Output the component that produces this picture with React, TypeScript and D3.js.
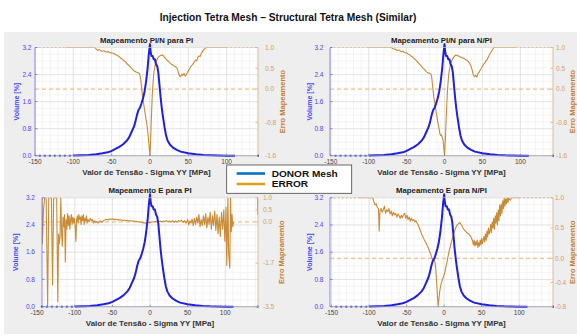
import React from "react";
import * as d3 from "d3";

type Pt = [number, number];

const mainTitle = "Injection Tetra Mesh – Structural Tetra Mesh (Similar)";
const xLabel = "Valor de Tensão - Sigma YY [MPa]";
const volLabel = "Volume [%]";
const errLabel = "Erro Mapeamento";
const legendLabels = ["DONOR Mesh", "ERROR"];

const xTicks = [-150, -100, -50, 0, 50, 100];
const volumeTicks = [0, 0.8, 1.6, 2.4, 3.2];
const panelTitles = [
  "Mapeamento PI/N para PI",
  "Mapeamento PI/N para N/PI",
  "Mapeamento E para PI",
  "Mapeamento E para N/PI",
];
const errTicksTL = [1.0, 0.5, 0.0, -0.8, -1.6];
const errTicksTR = [1.0, 0.5, 0.0, -0.8, -1.6];
const errTicksBL = [1.0, 0.5, 0.0, -1.7, -3.5];
const errTicksBR = [1.0, 0.5, 0.0, -0.4, -0.8];

const donorCurve: Pt[] = [
  [-100, 0.004], [-90, 0.01], [-80, 0.02], [-70, 0.04], [-62, 0.07], [-55, 0.1], [-50, 0.14],
  [-45, 0.2], [-40, 0.26], [-35, 0.34], [-30, 0.45], [-27, 0.55], [-24, 0.7], [-21, 0.85],
  [-19, 1.0], [-17, 1.2], [-15, 1.35], [-13, 1.42], [-11, 1.55], [-9, 1.7], [-7, 1.9],
  [-5, 2.2], [-3, 2.6], [-1.5, 3.0], [0, 3.3], [1, 3.05], [2, 2.95], [3.5, 2.95], [5, 2.85],
  [6.5, 2.85], [8, 2.7], [9.5, 2.65], [11, 2.45], [12, 2.2], [13, 1.95], [14, 1.7],
  [15.5, 1.4], [17, 1.15], [19, 0.85], [21, 0.6], [23, 0.45], [26, 0.33], [30, 0.24],
  [35, 0.17], [40, 0.12], [50, 0.07], [60, 0.04], [70, 0.02], [80, 0.01], [90, 0.005],
  [100, 0.002], [111, 0.0],
];
const donorDotted: Pt[] = [[-145, 0], [-100, 0]];

const errTL: Pt[] = [
  [-110, 1], [-72, 1], [-70, 0.96], [-68, 0.93], [-66, 0.95], [-63, 0.91], [-60, 0.92], [-57, 0.89],
  [-54, 0.9], [-51, 0.87], [-48, 0.86], [-45, 0.83], [-42, 0.8], [-40, 0.78], [-38, 0.74],
  [-36, 0.72], [-34, 0.68], [-32, 0.66], [-30, 0.61], [-28, 0.58], [-26, 0.54], [-24, 0.5],
  [-22, 0.46], [-20, 0.43], [-18, 0.41], [-16, 0.4], [-14, 0.38], [-13, 0.33], [-12, 0.22],
  [-11, 0.05], [-10, -0.12], [-9, -0.25], [-8, -0.38], [-7, -0.5], [-6, -0.62], [-5, -0.74],
  [-4, -0.85], [-3, -1.0], [-2, -1.2], [-1, -1.4], [0, -1.6], [0.8, -1.3], [1.5, -0.9],
  [2.3, -0.5], [3, -0.15], [4, 0.15], [5, 0.38], [6.5, 0.55], [8, 0.66], [10, 0.74], [12, 0.79],
  [14, 0.81], [16, 0.82], [18, 0.79], [20, 0.74], [22, 0.7], [24, 0.67], [26, 0.63], [28, 0.6],
  [30, 0.58], [32, 0.55], [34, 0.53], [35.5, 0.5], [37, 0.4], [38.5, 0.32], [40, 0.3],
  [41.5, 0.36], [43, 0.33], [44.5, 0.38], [46, 0.31], [47.5, 0.35], [49, 0.4], [50.5, 0.45],
  [52, 0.5], [54, 0.56], [56, 0.6], [58, 0.66], [59.5, 0.7], [61, 0.68], [62.5, 0.76], [64, 0.8],
  [65.5, 0.78], [67, 0.86], [68.5, 0.9], [70, 0.94], [72, 0.98], [74, 1], [100, 1],
];
const errTLDotted: Pt[][] = [[[-150, 1], [-110, 1]], [[100, 1], [141, 1]]];

const errTR: Pt[] = [
  [-101, 1], [-70, 1], [-68, 0.97], [-65, 0.96], [-62, 0.93], [-60, 0.94], [-57, 0.9], [-55, 0.91],
  [-53, 0.88], [-50, 0.87], [-48, 0.84], [-46, 0.83], [-44, 0.79], [-42, 0.77], [-40, 0.73],
  [-38, 0.7], [-36, 0.66], [-34, 0.62], [-32, 0.58], [-30, 0.54], [-28, 0.5], [-26, 0.46],
  [-24, 0.42], [-22, 0.39], [-20, 0.38], [-18, 0.36], [-17, 0.3], [-16, 0.12], [-15, -0.05],
  [-14, -0.2], [-13, -0.32], [-12, -0.45], [-11, -0.56], [-10, -0.66], [-9, -0.78], [-8, -0.88],
  [-7, -0.97], [-6, -1.08], [-5, -1.12], [-4, -1.1], [-3, -1.16], [-2, -1.22], [-1, -1.4],
  [0, -1.6], [1, -1.25], [2, -0.8], [3, -0.35], [4, 0.0], [5, 0.25], [6, 0.42], [7.5, 0.56],
  [9, 0.66], [11, 0.74], [13, 0.79], [15, 0.82], [17, 0.81], [19, 0.79], [21, 0.77], [23, 0.75],
  [25, 0.74], [27, 0.72], [29, 0.7], [31, 0.67], [33, 0.62], [35, 0.55], [36.5, 0.45], [38, 0.34],
  [39.5, 0.3], [41, 0.33], [42.5, 0.29], [44, 0.38], [45.5, 0.4], [47, 0.46], [48.5, 0.5],
  [50, 0.55], [51.5, 0.6], [53, 0.62], [54.5, 0.68], [56, 0.7], [57.5, 0.76], [59, 0.82],
  [61, 0.88], [63, 0.94], [65, 1], [94, 1],
];
const errTRDotted: Pt[][] = [[[-151, 1], [-101, 1]], [[94, 1], [143, 1]]];

const errBL: Pt[] = [
  [-143.5, 1.0], [-143, -0.9], [-141.5, 0.5], [-140, 1.0], [-138, 1.0], [-136, -3.5], [-134.5, 1.0],
  [-131, 1.0], [-129.5, -2.6], [-128, 1.0], [-124, 1.0], [-122.5, -3.3], [-121.5, -0.5],
  [-120.5, -0.9], [-119.5, -0.6], [-118.5, 1.0], [-117.5, -0.4], [-116.5, -1.0], [-115.5, 0.2],
  [-114.5, -0.2], [-113.5, 0.3], [-112.5, -1.65], [-111.5, 0.1], [-110.5, -0.3], [-109.5, 0.35],
  [-108.5, -0.15], [-107.5, 0.25], [-106.5, -0.3], [-105.5, 0.1], [-104.5, 0.3], [-103.5, -0.1],
  [-102.5, 0.2], [-101.5, -0.05], [-100.5, 0.15], [-99.5, -0.15], [-98.5, -0.8], [-97.5, 0.1],
  [-96.5, 0.25], [-95.5, -0.05], [-94.5, 0.3], [-93.5, 0.1], [-92.5, 0.2], [-91.5, -0.1],
  [-90.5, 0.25], [-89.5, 0.05], [-88.5, 0.3], [-87.5, -0.1], [-86.5, 0.15], [-85.5, 0.05],
  [-84.5, 0.25], [-83.5, -0.05], [-82.5, 0.1], [-81, 0.0], [-79.5, 0.15], [-78, 0.05],
  [-76.5, 0.1], [-75, -0.05], [-73.5, 0.05], [-72, -0.03], [-70.5, 0.02], [-69, -0.05],
  [-67.5, 0.0], [-66, 0.04], [-64, -0.02], [-62, 0.06], [-60, 0.08], [-58, 0.11], [-56, 0.08],
  [-54, 0.12], [-52, 0.1], [-50, 0.13], [-48, 0.09], [-46, 0.11], [-44, 0.08], [-42, 0.1],
  [-40, 0.07], [-38, 0.09], [-36, 0.06], [-34, 0.08], [-32, 0.05], [-30, 0.07], [-28, 0.04],
  [-26, 0.06], [-24, 0.03], [-22, 0.05], [-20, 0.02], [-18, 0.03], [-16, 0.0], [-14, 0.01],
  [-12, -0.01], [-10, -0.03], [-8, -0.04], [-6, -0.05], [-4, -0.04], [-2, -0.02], [0, -0.03],
  [2, -0.01], [4, 0.0], [6, 0.01], [8, 0.02], [10, 0.0], [12, 0.02], [14, 0.03], [16, 0.01],
  [18, 0.04], [20, 0.02], [22, 0.05], [24, 0.01], [26, 0.04], [28, 0.0], [30, 0.05], [32, -0.02],
  [34, 0.04], [36, 0.0], [38, 0.06], [40, 0.02], [42, 0.07], [44, -0.02], [46, 0.05], [48, -0.05],
  [50, 0.1], [51.5, -0.12], [53, 0.05], [54.5, -0.05], [56, 0.12], [57.5, -0.15], [59, 0.15],
  [60.5, -0.1], [62, 0.2], [63.5, -0.05], [65, 0.3], [66.5, -0.2], [68, 0.1], [69.5, -0.15],
  [71, 0.25], [72.5, -0.1], [74, 0.35], [75.5, -0.25], [77, 0.2], [78.5, -0.1], [80, 0.4],
  [81.5, -0.3], [83, 0.25], [84.5, -0.15], [86, 0.45], [87.5, -0.35], [89, 0.3], [90.5, -0.5],
  [92, 0.2], [93.5, -0.6], [95, 0.4], [96.5, -0.3], [98, 0.5], [99.5, -0.8], [101, 0.6],
  [102, -1.8], [103.5, 1.0], [104.5, -1.3], [106, -1.9], [107, 1.0], [108, -0.4], [109, 0.3],
  [110, -0.2], [111, 0.0],
];
const errBLEnd: Pt[] = [[143, 1.0], [143.3, 0.3]];

const errBR: Pt[] = [
  [-115, 1], [-95, 1], [-93.5, 0.93], [-92, 0.88], [-90.5, 0.9], [-89, 0.84], [-87.5, 0.82],
  [-86.5, 0.45], [-85.5, 0.78], [-84, 0.82], [-82.5, 0.76], [-81, 0.8], [-79.5, 0.86], [-78, 0.74],
  [-76.5, 0.8], [-75, 0.77], [-73.5, 0.82], [-72, 0.73], [-70.5, 0.78], [-69, 0.7], [-67.5, 0.76],
  [-66, 0.72], [-64.5, 0.74], [-63, 0.68], [-61.5, 0.73], [-60, 0.7], [-58.5, 0.66], [-57, 0.71],
  [-55.5, 0.67], [-54, 0.72], [-52.5, 0.74], [-51, 0.66], [-49.5, 0.71], [-48, 0.64], [-46.5, 0.68],
  [-45, 0.61], [-43.5, 0.66], [-42, 0.62], [-40.5, 0.64], [-39, 0.6], [-37.5, 0.62], [-36, 0.58],
  [-34.5, 0.55], [-33, 0.5], [-31.5, 0.45], [-30, 0.4], [-28.5, 0.36], [-27, 0.32], [-25.5, 0.28],
  [-24, 0.25], [-22.5, 0.21], [-21, 0.17], [-19.5, 0.12], [-18, 0.07], [-17, 0.03], [-16, 0.0],
  [-15, -0.01], [-14, -0.02], [-13, -0.04], [-12, -0.08], [-11, -0.2], [-10, -0.4], [-9, -0.6],
  [-8, -0.8], [-7, -0.68], [-6, -0.56], [-5, -0.48], [-4, -0.42], [-3, -0.38], [-2, -0.34],
  [-1, -0.31], [0, -0.27], [1, -0.23], [2, -0.17], [3, -0.11], [4, -0.05], [5, 0.02], [6, 0.08],
  [7, 0.14], [8, 0.18], [9, 0.24], [10, 0.28], [11, 0.33], [12, 0.37], [13, 0.42], [14, 0.45],
  [15, 0.49], [16, 0.52], [17, 0.54], [18, 0.56], [19, 0.57], [20, 0.58], [21, 0.59], [22, 0.57],
  [23, 0.55], [24, 0.53], [25, 0.5], [26, 0.48], [27.5, 0.46], [29, 0.44], [30.5, 0.42],
  [32, 0.41], [33.5, 0.39], [35, 0.37], [36.5, 0.33], [38, 0.28], [39, 0.22], [40, 0.3],
  [41, 0.2], [42, 0.27], [43, 0.22], [44, 0.3], [45, 0.18], [46, 0.26], [47, 0.2], [48, 0.3],
  [49, 0.22], [50, 0.33], [51, 0.24], [52, 0.3], [53, 0.36], [54, 0.27], [55, 0.4], [56, 0.3],
  [57, 0.45], [58, 0.35], [59, 0.5], [60, 0.4], [61, 0.44], [62, 0.56], [63, 0.42], [64, 0.6],
  [65, 0.5], [66, 0.66], [67, 0.48], [68, 0.7], [69, 0.58], [70, 0.75], [71, 0.55], [72, 0.8],
  [73, 0.62], [74, 0.88], [75, 0.7], [76, 0.9], [77, 0.74], [78, 0.95], [79, 0.82], [80, 1.0],
  [81, 0.86], [82, 0.98], [83, 0.9], [84, 1.0], [85, 0.92], [86, 1.0], [88, 0.96], [90, 1.0],
  [100, 1.0],
];
const errBRDotted: Pt[][] = [[[-152, 1], [-115, 1]], [[100, 1], [145, 1]]];

const errSeries = [errTL, errTR, errBL, errBR];
const errDottedSeries = [errTLDotted, errTRDotted, [errBLEnd], errBRDotted];
const errTickSets = [errTicksTL, errTicksTR, errTicksBL, errTicksBR];

// layout (pixels) kept separate from data
const layout = [
  { left: 35, right: 258, top: 47.5, bottom: 155.7, xDom: [-150, 141], volLx: 17, volTx: 3.5, errTx: 7, errLx: 24.5, endDot: 141 },
  { left: 330, right: 553, top: 47.5, bottom: 155.7, xDom: [-151, 143], volLx: 309.7, volTx: 6.5, errTx: 3, errLx: 19.5, endDot: 143 },
  { left: 42, right: 258, top: 197.7, bottom: 306.7, xDom: [-143.5, 143.5], volLx: 16, volTx: 7, errTx: 5, errLx: 23.7, endDot: 143 },
  { left: 330, right: 553, top: 197.7, bottom: 306.7, xDom: [-152, 145], volLx: 309.7, volTx: 6.5, errTx: 2, errLx: 19.5, endDot: 145 },
];

const FONT = "'Liberation Sans', Arial, Helvetica, sans-serif";
const BLUE = "#1f1fe0";
const BLUE_AX = "#6a6aff";
const BLUE_TXT = "#4646f5";
const ORANGE = "#c98b35";
const ORANGE_AX = "#d6b07e";
const ORANGE_TXT = "#cfa06a";
const ORANGE_LBL = "#c47c2e";

function Panel({ i }: { i: number }) {
  const L = layout[i];
  const ticks = errTickSets[i];
  const errDom = [ticks[ticks.length - 1], ticks[0]];
  const x = d3.scaleLinear().domain(L.xDom).range([L.left, L.right]);
  const yV = d3.scaleLinear().domain([0, 3.2]).range([L.bottom, L.top]);
  const yE = d3.scaleLinear().domain(errDom).range([L.bottom, L.top]);
  const lineV = d3.line<Pt>().x((d) => x(d[0])).y((d) => yV(d[1]));
  const lineE = d3.line<Pt>().x((d) => x(d[0])).y((d) => yE(d[1]));
  const clipId = `clip${i}`;
  const minorX = d3.range(-150, 150, 10).filter((v) => v >= L.xDom[0] && v <= L.xDom[1]);
  const minorY = d3.range(0, 3.21, 0.2);
  const cy = (L.top + L.bottom) / 2;
  const cx = (L.left + L.right) / 2;
  const errLx = L.right + L.errLx;
  return (
    <g>
      <defs>
        <clipPath id={clipId}>
          <rect x={L.left} y={L.top - 0.5} width={L.right - L.left} height={L.bottom - L.top + 1} />
        </clipPath>
      </defs>
      <rect x={L.left} y={L.top} width={L.right - L.left} height={L.bottom - L.top} fill="#ffffff" />
      {minorX.map((v) => (
        <line key={"mx" + v} x1={x(v)} x2={x(v)} y1={L.top} y2={L.bottom} stroke="#efefef" strokeWidth={0.6} />
      ))}
      {minorY.map((v) => (
        <line key={"my" + v} x1={L.left} x2={L.right} y1={yV(v)} y2={yV(v)} stroke="#efefef" strokeWidth={0.6} />
      ))}
      {xTicks.filter((v) => v >= L.xDom[0] && v <= L.xDom[1]).map((v) => (
        <line key={"gx" + v} x1={x(v)} x2={x(v)} y1={L.top} y2={L.bottom} stroke="#dedede" strokeWidth={0.7} />
      ))}
      {volumeTicks.map((v) => (
        <line key={"gy" + v} x1={L.left} x2={L.right} y1={yV(v)} y2={yV(v)} stroke="#dedede" strokeWidth={0.7} />
      ))}
      <line x1={L.left} x2={L.right} y1={yE(0)} y2={yE(0)} stroke="#e6b574" strokeWidth={1} strokeDasharray="4,3" />
      <g clipPath={`url(#${clipId})`}>
        <path d={lineE(errSeries[i]) || ""} fill="none" stroke={ORANGE} strokeWidth={1.1} strokeLinejoin="round" />
        {errDottedSeries[i].map((seg, k) => (
          <path key={k} d={lineE(seg) || ""} fill="none" stroke={ORANGE} strokeWidth={1.2}
            strokeDasharray={k === 0 && i === 2 ? undefined : "1.5,2.5"} />
        ))}
      </g>
      <path d={lineV(donorDotted) || ""} fill="none" stroke={BLUE} strokeWidth={1.8} strokeDasharray="2,3" />
      <path d={lineV(donorCurve) || ""} fill="none" stroke={BLUE} strokeWidth={2} strokeLinejoin="round" />
      <circle cx={x(L.endDot)} cy={yV(0)} r={1.1} fill={BLUE} />
      <line x1={L.left} x2={L.right} y1={L.bottom} y2={L.bottom} stroke="#9a9ab8" strokeWidth={0.8} />
      <line x1={L.left} x2={L.right} y1={L.top} y2={L.top} stroke="#e2e2e2" strokeWidth={0.6} />
      <line x1={L.left} x2={L.left} y1={L.top} y2={L.bottom} stroke={BLUE_AX} strokeWidth={0.8} />
      <line x1={L.right} x2={L.right} y1={L.top} y2={L.bottom} stroke={ORANGE_AX} strokeWidth={0.8} />
      {volumeTicks.map((v) => (
        <g key={"vt" + v}>
          <line x1={L.left} x2={L.left + 2.5} y1={yV(v)} y2={yV(v)} stroke={BLUE_AX} strokeWidth={0.8} />
          <text x={L.left - L.volTx} y={yV(v)} dy="0.35em" textAnchor="end" fontSize={6.5} fill={BLUE_TXT} fontFamily={FONT}>
            {v.toFixed(1)}
          </text>
        </g>
      ))}
      {ticks.map((v) => (
        <g key={"et" + v}>
          <line x1={L.right - 2.5} x2={L.right} y1={yE(v)} y2={yE(v)} stroke={ORANGE_AX} strokeWidth={0.8} />
          <text x={L.right + L.errTx} y={yE(v)} dy="0.35em" textAnchor="start" fontSize={6.5} fill={ORANGE_TXT} fontFamily={FONT}>
            {v.toFixed(1)}
          </text>
        </g>
      ))}
      {xTicks.map((v) => (
        <g key={"xt" + v}>
          {v >= L.xDom[0] && v <= L.xDom[1] ? (
            <line x1={x(v)} x2={x(v)} y1={L.bottom} y2={L.bottom - 2} stroke="#777" strokeWidth={0.7} />
          ) : null}
          <text x={x(v)} y={L.bottom + 8.2} textAnchor="middle" fontSize={6.5} fill="#444" fontFamily={FONT}>
            {String(v)}
          </text>
        </g>
      ))}
      <text x={cx} y={L.bottom + 18.8} textAnchor="middle" fontSize={8} fontWeight="bold" fill="#333" fontFamily={FONT}>
        {xLabel}
      </text>
      <text x={cx} y={L.top - 4.5} textAnchor="middle" fontSize={7.8} fontWeight="bold" fill="#222" fontFamily={FONT}>
        {panelTitles[i]}
      </text>
      <text x={L.volLx} y={cy} dy="0.35em" textAnchor="middle" fontSize={7} fontWeight="bold" fill={BLUE_TXT}
        fontFamily={FONT} transform={`rotate(-90, ${L.volLx}, ${cy})`}>
        {volLabel}
      </text>
      <text x={errLx} y={cy} dy="0.35em" textAnchor="middle" fontSize={7.5} fontWeight="bold" fill={ORANGE_LBL}
        fontFamily={FONT} transform={`rotate(-90, ${errLx}, ${cy})`}>
        {errLabel}
      </text>
    </g>
  );
}

export default function App() {
  return (
    <svg width={577} height={336} viewBox="0 0 577 336"
      style={{ position: "absolute", left: 0, top: 0, background: "#ffffff" }}>
      <rect x={0} y={0} width={577} height={336} fill="#ffffff" />
      <rect x={4} y={32} width={573} height={302} fill="#eeeeee" />
      <text x={288} y={20.5} textAnchor="middle" fontSize={10.2} fontWeight="bold" fill="#111" fontFamily={FONT}>
        {mainTitle}
      </text>
      {[0, 1, 2, 3].map((i) => (
        <Panel key={i} i={i} />
      ))}
      <g>
        <rect x={226.7} y={165} width={125} height={28.3} fill="#ffffff" stroke="#444" strokeWidth={0.8} />
        <line x1={236.7} x2={265} y1={173.5} y2={173.5} stroke="#0b6fc4" strokeWidth={2.6} />
        <line x1={236.7} x2={265} y1={184} y2={184} stroke="#d8a31c" strokeWidth={2.6} />
        <text x={271.7} y={173.5} dy="0.35em" fontSize={9} fontWeight="bold" fill="#111" fontFamily={FONT}
          textLength={66} lengthAdjust="spacingAndGlyphs">
          {legendLabels[0]}
        </text>
        <text x={271.7} y={184} dy="0.35em" fontSize={9} fontWeight="bold" fill="#111" fontFamily={FONT}
          textLength={36.5} lengthAdjust="spacingAndGlyphs">
          {legendLabels[1]}
        </text>
      </g>
    </svg>
  );
}
